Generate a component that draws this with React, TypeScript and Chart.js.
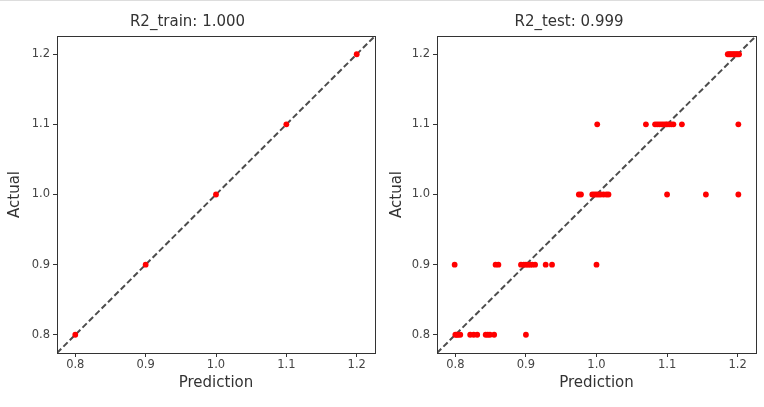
import React, { useEffect, useRef } from "react";
import { Chart, registerables } from "chart.js";

Chart.register(...registerables);

const trainPredicted = [0.8, 0.9, 1.0, 1.1, 1.2];
const trainActual = [0.8, 0.9, 1.0, 1.1, 1.2];

const testPredicted = [
  1.186, 1.188, 1.19, 1.192, 1.194, 1.196, 1.198, 1.2, 1.202,
  1.001, 1.07, 1.083, 1.086, 1.089, 1.092, 1.095, 1.098, 1.1, 1.103, 1.106, 1.109, 1.121, 1.201,
  0.975, 0.978, 0.994, 0.997, 1.0, 1.003, 1.006, 1.01, 1.014, 1.017, 1.1, 1.155, 1.201,
  0.799, 0.857, 0.861, 0.893, 0.897, 0.9, 0.903, 0.906, 0.909, 0.913, 0.928, 0.937, 1.0,
  0.8, 0.802, 0.804, 0.807, 0.821, 0.826, 0.831, 0.843, 0.846, 0.849, 0.855, 0.9,
];
const testActual = [
  1.2, 1.2, 1.2, 1.2, 1.2, 1.2, 1.2, 1.2, 1.2,
  1.1, 1.1, 1.1, 1.1, 1.1, 1.1, 1.1, 1.1, 1.1, 1.1, 1.1, 1.1, 1.1, 1.1,
  1.0, 1.0, 1.0, 1.0, 1.0, 1.0, 1.0, 1.0, 1.0, 1.0, 1.0, 1.0, 1.0,
  0.9, 0.9, 0.9, 0.9, 0.9, 0.9, 0.9, 0.9, 0.9, 0.9, 0.9, 0.9, 0.9,
  0.8, 0.8, 0.8, 0.8, 0.8, 0.8, 0.8, 0.8, 0.8, 0.8, 0.8, 0.8,
];

const tickValues = [0.8, 0.9, 1.0, 1.1, 1.2];
const axisLimits = [0.774, 1.226];
const panelTitles = ["R2_train: 1.000", "R2_test: 0.999"];
const xAxisTitle = "Prediction";
const yAxisTitle = "Actual";

const FONT = "'DejaVu Sans', 'Liberation Sans', sans-serif";

const boxPlugin = {
  id: "boxPlugin",
  afterDatasetsDraw(chart: any) {
    const { ctx, chartArea } = chart;
    ctx.save();
    ctx.strokeStyle = "#333";
    ctx.lineWidth = 1;
    ctx.strokeRect(
      Math.round(chartArea.left) + 0.5,
      Math.round(chartArea.top) + 0.5,
      Math.round(chartArea.right - chartArea.left),
      Math.round(chartArea.bottom - chartArea.top)
    );
    ctx.restore();
  },
};

function makeConfig(title: string, xs: number[], ys: number[], yAxisWidth: number, rightPad: number) {
  const points = xs.map((x, i) => ({ x, y: ys[i] }));
  const diag = axisLimits.map((v) => ({ x: v, y: v }));
  const setTicks = (scale: any) => {
    scale.ticks = tickValues.map((v) => ({ value: v }));
  };
  return {
    type: "scatter" as const,
    data: {
      datasets: [
        {
          data: points,
          backgroundColor: "#ff0000",
          borderWidth: 0,
          pointRadius: 2.9,
          pointHoverRadius: 2.9,
        },
        {
          type: "line" as const,
          data: diag,
          borderColor: "rgba(0,0,0,0.7)",
          borderWidth: 2,
          borderDash: [6, 3],
          pointRadius: 0,
          fill: false,
          showLine: true,
        },
      ],
    },
    options: {
      responsive: false,
      animation: false as const,
      events: [],
      layout: { padding: { left: 0, right: rightPad, top: 0, bottom: 0 } },
      plugins: {
        legend: { display: false },
        tooltip: { enabled: false },
        title: {
          display: true,
          text: title,
          color: "#333",
          font: { family: FONT, size: 15, weight: "normal" as const, lineHeight: 1.2 },
          padding: { top: 13, bottom: 5 },
        },
      },
      scales: {
        x: {
          type: "linear" as const,
          min: axisLimits[0],
          max: axisLimits[1],
          afterBuildTicks: setTicks,
          afterFit: (scale: any) => {
            scale.height = 54;
          },
          border: { display: false },
          grid: { drawOnChartArea: false, drawTicks: true, tickLength: 4, color: "#333" },
          ticks: {
            autoSkip: false,
            maxRotation: 0,
            padding: 1,
            color: "#444",
            font: { family: FONT, size: 11.5 },
            callback: (v: any) => Number(v).toFixed(1),
          },
          title: {
            display: true,
            text: xAxisTitle,
            color: "#333",
            font: { family: FONT, size: 15, lineHeight: 1.2 },
            padding: { top: 0, bottom: 15 },
          },
        },
        y: {
          type: "linear" as const,
          min: axisLimits[0],
          max: axisLimits[1],
          afterBuildTicks: setTicks,
          afterFit: (scale: any) => {
            scale.width = yAxisWidth;
          },
          border: { display: false },
          grid: { drawOnChartArea: false, drawTicks: true, tickLength: 4, color: "#333" },
          ticks: {
            autoSkip: false,
            padding: 3,
            color: "#444",
            font: { family: FONT, size: 11.5 },
            callback: (v: any) => Number(v).toFixed(1),
          },
          title: {
            display: true,
            text: yAxisTitle,
            color: "#333",
            font: { family: FONT, size: 15, lineHeight: 1.2 },
            padding: { top: 6, bottom: 0 },
          },
        },
      },
    },
    plugins: [boxPlugin],
  };
}

function Panel({ left, title, xs, ys, yAxisWidth, rightPad }: any) {
  const ref = useRef<HTMLCanvasElement | null>(null);
  useEffect(() => {
    if (!ref.current) return;
    const chart = new Chart(ref.current, makeConfig(title, xs, ys, yAxisWidth, rightPad) as any);
    return () => chart.destroy();
  }, []);
  return (
    <canvas
      ref={ref}
      width={382}
      height={407}
      style={{ position: "absolute", left, top: 0, width: 382, height: 407 }}
    />
  );
}

export default function App() {
  return (
    <div
      style={{
        position: "fixed",
        left: 0,
        top: 0,
        width: 764,
        height: 407,
        background: "#fff",
        overflow: "hidden",
      }}
    >
      <Panel left={0} title={panelTitles[0]} xs={trainPredicted} ys={trainActual} yAxisWidth={57} rightPad={7} />
      <Panel left={382} title={panelTitles[1]} xs={testPredicted} ys={testActual} yAxisWidth={55} rightPad={8} />
      <div style={{ position: "absolute", left: 0, top: 0, width: 764, height: 1, background: "#ddd" }} />
    </div>
  );
}
